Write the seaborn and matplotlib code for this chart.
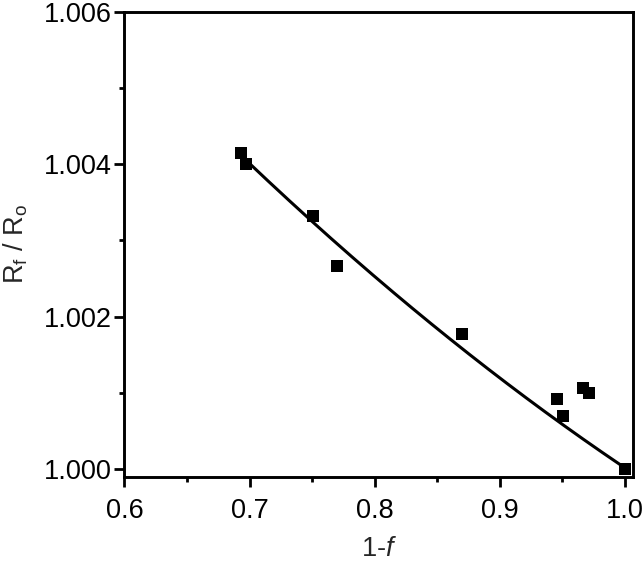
import matplotlib
matplotlib.use("Agg")
import matplotlib.pyplot as plt
import seaborn as sns
import pandas as pd
import numpy as np

# data
one_minus_f = [0.6934, 0.6971, 0.7508, 0.7700, 0.8696, 0.9456, 0.9509, 0.9669, 0.9717, 1.0000]
r_ratio = [1.00415, 1.00400, 1.00332, 1.00266, 1.00177, 1.00092, 1.00069, 1.00106, 1.00100, 1.00000]

# fitted curve, points (smoothed with a quadratic)
fit_x = [0.6985, 0.7321, 0.7882, 0.8402, 0.8682, 0.9136, 0.9722, 0.9937, 1.0000]
fit_y = [1.00405, 1.003485, 1.002706, 1.001954, 1.001613, 1.001036, 1.000337, 1.000096, 1.000000]

x_ticks = [0.6, 0.7, 0.8, 0.9, 1.0]
x_tick_labels = ["0.6", "0.7", "0.8", "0.9", "1.0"]
y_ticks = [1.000, 1.002, 1.004, 1.006]
y_tick_labels = ["1.000", "1.002", "1.004", "1.006"]

sns.set_theme(style="ticks")
plt.rcParams["font.family"] = ["Liberation Sans", "DejaVu Sans"]
plt.rcParams["mathtext.fontset"] = "custom"
plt.rcParams["mathtext.rm"] = "Liberation Sans"
plt.rcParams["mathtext.it"] = "Liberation Sans:italic"

fig = plt.figure(figsize=(6.44, 5.62), dpi=100)
ax = fig.add_axes([0.1933, 0.1521, 0.9830 - 0.1933, 0.9795 - 0.1521])

pts = pd.DataFrame({"x": one_minus_f, "y": r_ratio})

coef = np.polyfit(np.array(fit_x) - 1.0, np.array(fit_y) - 1.0, 2)
xs = np.linspace(min(fit_x), max(fit_x), 200)
fit = pd.DataFrame({"x": xs, "y": 1.0 + np.polyval(coef, xs - 1.0)})

sns.lineplot(data=fit, x="x", y="y", ax=ax, color="black", linewidth=2.2, sort=True)
sns.scatterplot(data=pts, x="x", y="y", ax=ax, marker="s", s=80, color="black",
                linewidth=0, zorder=3, clip_on=False)

ax.set_xlim(0.6, 1.0067)
ax.set_ylim(0.999902, 1.006)
ax.set_xticks(x_ticks)
ax.set_xticklabels(x_tick_labels)
ax.set_yticks(y_ticks)
ax.set_yticklabels(y_tick_labels)
ax.set_xticks([0.65, 0.75, 0.85, 0.95], minor=True)
ax.set_yticks([1.001, 1.003, 1.005], minor=True)

for sp in ax.spines.values():
    sp.set_visible(True)
    sp.set_linewidth(2.1)
    sp.set_color("black")

ax.tick_params(axis="both", which="major", direction="out", length=7.2, width=2.0,
               labelsize=19.5, colors="black", top=False, right=False)
ax.tick_params(axis="x", which="major", pad=8)
ax.tick_params(axis="y", which="major", pad=2)
ax.tick_params(axis="both", which="minor", direction="out", length=3.8, width=2.0,
               top=False, right=False, colors="black")

ax.set_xlabel("1-$\\mathit{f}$", fontsize=19.5, labelpad=9)
ax.set_ylabel("$\\mathrm{R_f\\ /\\ R_o}$", fontsize=19.5, labelpad=10)

fig.savefig("out.png", dpi=100)
